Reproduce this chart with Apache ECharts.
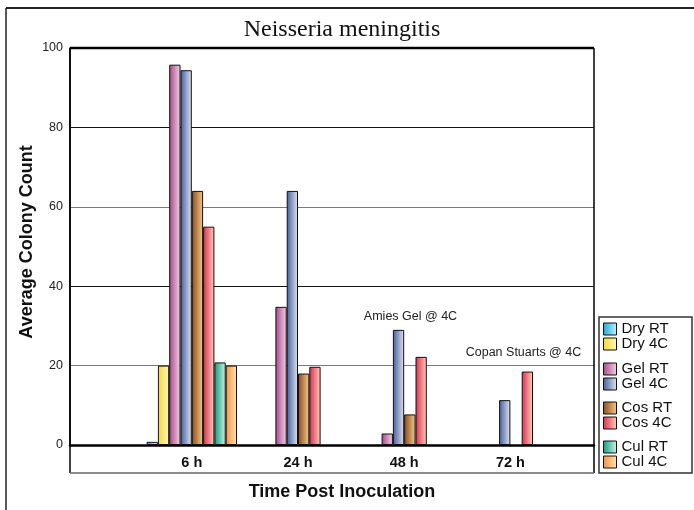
<!DOCTYPE html>
<html><head><meta charset="utf-8">
<script src="https://cdn.jsdelivr.net/npm/echarts@6/dist/echarts.min.js"></script>
<style>html,body{margin:0;padding:0;background:#fff}#c{width:694px;height:510px}</style>
</head><body><div id="c"></div>
<script>
const categories = ['6 h', '24 h', '48 h', '72 h'];
const seriesNames = ['Dry RT', 'Dry 4C', 'Gel RT', 'Gel 4C', 'Cos RT', 'Cos 4C', 'Cul RT', 'Cul 4C'];
const dryRT = [0.8, null, null, null];
const dry4C = [20, null, null, null];
const gelRT = [95.8, 34.8, 2.9, null];
const gel4C = [94.4, 64, 29, 11.3];
const cosRT = [64, 18, 7.7, null];
const cos4C = [55, 19.7, 22.2, 18.5];
const culRT = [20.8, null, null, null];
const cul4C = [20, null, null, null];
const yTicks = [0, 20, 40, 60, 80, 100];

const seriesData = [dryRT, dry4C, gelRT, gel4C, cosRT, cos4C, culRT, cul4C];
const gradients = [
  ['#1aa6d6', '#c8f2fa'],
  ['#f6d830', '#fff8c8'],
  ['#a8448c', '#f2d6e6'],
  ['#3f5ea6', '#e4e4e4'],
  ['#8e4a14', '#f2cc94'],
  ['#dc2c4c', '#fad0bf'],
  ['#0e9c7c', '#d2f2e4'],
  ['#f4923e', '#ffe4b8']
];
const FONT = '"Liberation Sans", Arial, sans-serif';

function grad(c) {
  return new echarts.graphic.LinearGradient(0, 0, 1, 0, [
    { offset: 0, color: c[0] }, { offset: 1, color: c[1] }
  ]);
}

const chart = echarts.init(document.getElementById('c'), null, { renderer: 'canvas' });

const series = seriesNames.map((n, i) => ({
  name: n,
  type: 'bar',
  xAxisIndex: 1,
  yAxisIndex: 1,
  data: seriesData[i],
  barWidth: 11.3,
  barGap: '0%',
  itemStyle: { color: grad(gradients[i]), borderColor: '#111', borderWidth: 1 },
  emphasis: { disabled: true },
  animation: false
}));

function legend(names, top) {
  return {
    data: names,
    orient: 'vertical',
    left: 603,
    top: top,
    padding: 0,
    itemWidth: 13,
    itemHeight: 12,
    itemGap: 0,
    icon: 'rect',
    selectedMode: false,
    itemStyle: { borderColor: '#111', borderWidth: 1 },
    textStyle: { fontFamily: FONT, fontSize: 15, color: '#111', lineHeight: 15 }
  };
}

chart.setOption({
  animation: false,
  grid: [
    { left: 70, right: 100, top: 48, bottom: 65 },
    { left: 138.7, right: 130.5, top: 48, bottom: 65 }
  ],
  xAxis: [
    { gridIndex: 0, type: 'value', min: 0, max: 1,
      axisLine: { show: true, onZero: false, lineStyle: { color: '#000', width: 2.5 } },
      axisTick: { show: false }, axisLabel: { show: false }, splitLine: { show: false } },
    { gridIndex: 1, type: 'category', data: categories,
      axisLine: { show: false }, axisTick: { show: false },
      axisLabel: { fontFamily: FONT, fontSize: 14.5, fontWeight: 'bold', color: '#111', margin: 10 } }
  ],
  yAxis: [
    { gridIndex: 0, type: 'value', min: 0, max: 100, interval: 20,
      axisLine: { show: true, lineStyle: { color: '#000', width: 1.5 } },
      axisTick: { show: false },
      axisLabel: { fontFamily: FONT, fontSize: 12.5, color: '#222', margin: 7,
        customValues: yTicks },
      splitLine: { show: true, lineStyle: { color: ['#111', '#7a7a7a'], width: 1.2 } } },
    { gridIndex: 1, type: 'value', min: 0, max: 100, show: false }
  ],
  legend: [
    legend(['Dry RT', 'Dry 4C'], 321.5),
    legend(['Gel RT', 'Gel 4C'], 361.5),
    legend(['Cos RT', 'Cos 4C'], 400.5),
    legend(['Cul RT', 'Cul 4C'], 439.5)
  ],
  graphic: [
    // outer frame
    { type: 'line', shape: { x1: 6, y1: 8, x2: 694, y2: 8 }, style: { stroke: '#222', lineWidth: 2 }, z: 0 },
    { type: 'line', shape: { x1: 6, y1: 8, x2: 6, y2: 510 }, style: { stroke: '#222', lineWidth: 1.5 }, z: 0 },
    // plot frame
    { type: 'line', shape: { x1: 70, y1: 48, x2: 594, y2: 48 }, style: { stroke: '#000', lineWidth: 2.5 }, z: 10 },
    { type: 'line', shape: { x1: 70, y1: 48, x2: 70, y2: 473 }, style: { stroke: '#000', lineWidth: 1.5 }, z: 10 },
    { type: 'line', shape: { x1: 594, y1: 48, x2: 594, y2: 473 }, style: { stroke: '#000', lineWidth: 1.5 }, z: 10 },
    { type: 'line', shape: { x1: 70, y1: 473, x2: 594, y2: 473 }, style: { stroke: '#666', lineWidth: 1.5 }, z: 10 },
    // legend box
    { type: 'rect', shape: { x: 599, y: 317, width: 93, height: 156 }, style: { fill: 'none', stroke: '#333', lineWidth: 1.5 }, z: 10 },
    // title
    { type: 'text', style: { text: 'Neisseria meningitis', x: 342, y: 30, align: 'center', verticalAlign: 'middle',
        font: '24px "Liberation Serif", "DejaVu Serif", serif', fill: '#111' }, z: 10 },
    // axis titles
    { type: 'text', style: { text: 'Time Post Inoculation', x: 342, y: 492, align: 'center', verticalAlign: 'middle',
        font: 'bold 18px ' + FONT, fill: '#111' }, z: 10 },
    { type: 'text', x: 27, y: 242, rotation: Math.PI / 2, style: { text: 'Average Colony Count', x: 0, y: 0, align: 'center', verticalAlign: 'middle',
        font: 'bold 18px ' + FONT, fill: '#111' }, z: 10 },
    // annotations
    { type: 'text', style: { text: 'Amies Gel @ 4C', x: 410.5, y: 317, align: 'center', verticalAlign: 'middle',
        font: '12.5px ' + FONT, fill: '#222' }, z: 10 },
    { type: 'text', style: { text: 'Copan Stuarts @ 4C', x: 523.5, y: 353, align: 'center', verticalAlign: 'middle',
        font: '12.5px ' + FONT, fill: '#222' }, z: 10 }
  ],
  series: series
});
</script>
</body></html>
